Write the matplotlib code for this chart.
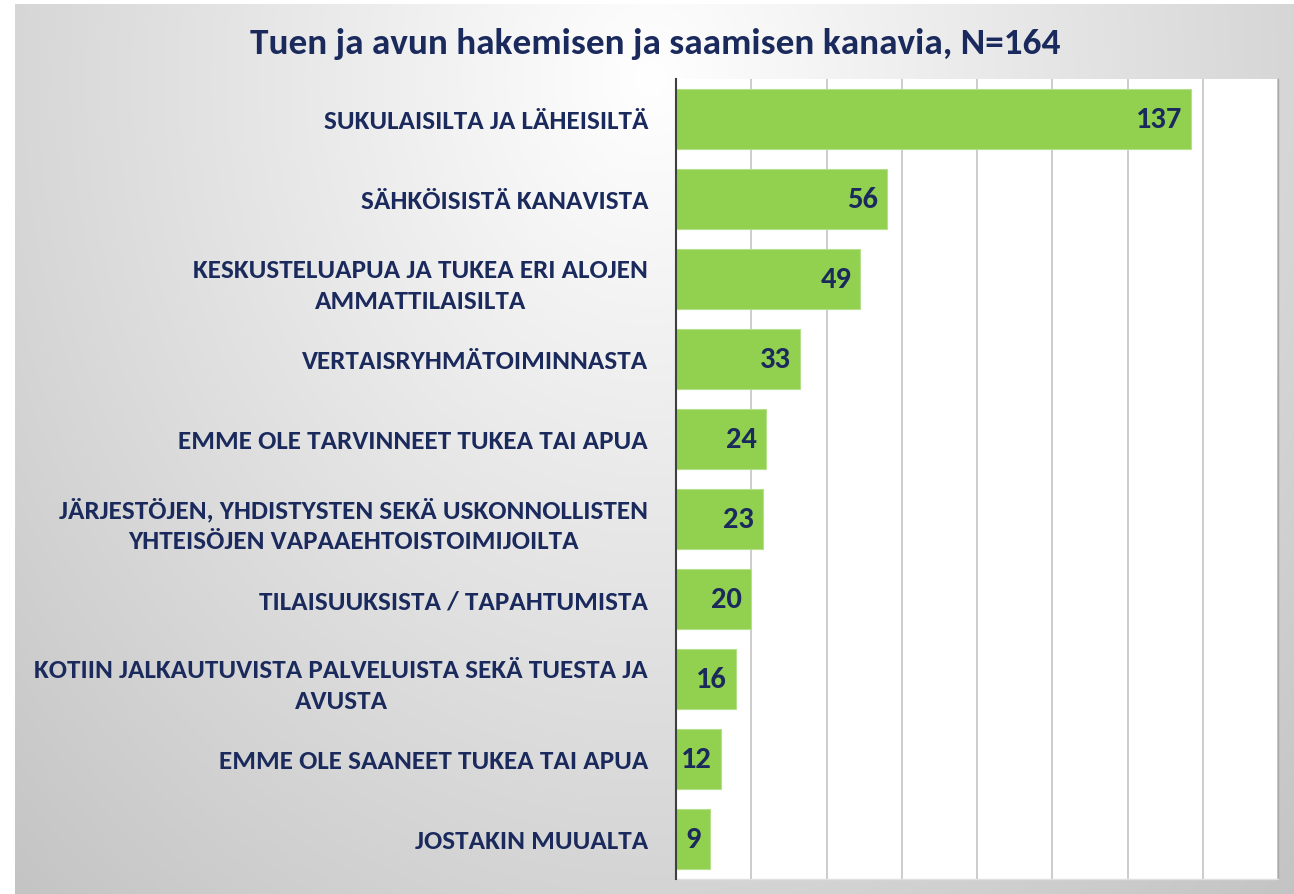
import numpy as np
import matplotlib
matplotlib.use("Agg")
import matplotlib.pyplot as plt
from matplotlib import font_manager

categories = [
    "SUKULAISILTA JA LÄHEISILTÄ",
    "SÄHKÖISISTÄ KANAVISTA",
    "KESKUSTELUAPUA JA TUKEA ERI ALOJEN\nAMMATTILAISILTA",
    "VERTAISRYHMÄTOIMINNASTA",
    "EMME OLE TARVINNEET TUKEA TAI APUA",
    "JÄRJESTÖJEN, YHDISTYSTEN SEKÄ USKONNOLLISTEN\nYHTEISÖJEN VAPAAEHTOISTOIMIJOILTA",
    "TILAISUUKSISTA / TAPAHTUMISTA",
    "KOTIIN JALKAUTUVISTA PALVELUISTA SEKÄ TUESTA JA\nAVUSTA",
    "EMME OLE SAANEET TUKEA TAI APUA",
    "JOSTAKIN MUUALTA",
]
values = [137, 56, 49, 33, 24, 23, 20, 16, 12, 9]
title = "Tuen ja avun hakemisen ja saamisen kanavia, N=164"
xticks = [0, 20, 40, 60, 80, 100, 120, 140, 160]

names = {f.name for f in font_manager.fontManager.ttflist}
fam = "DejaVu Sans"
for cand in ["Carlito", "Liberation Sans Narrow", "Open Sans Condensed", "IBM Plex Sans Condensed"]:
    if cand in names:
        fam = cand
        break
plt.rcParams["font.family"] = [fam, "DejaVu Sans"]

navy = "#1b2a5c"
W, H = 1294, 895
fig = plt.figure(figsize=(W / 100, H / 100), dpi=100)
fig.patch.set_facecolor("white")

# background panel with radial gradient
bg = fig.add_axes([15 / W, 0, 1 - 15 / W, 1 - 5 / H])
yy, xx = np.mgrid[0:890, 0:1279]
xx = xx + 15
yy = yy + 5
d = np.sqrt(((xx - 650) / 680.0) ** 2 + ((yy - 80) / 820.0) ** 2)
val = 1.0 - 0.17 * d
val = np.clip(val, 0.74, 1.0)
img = np.dstack([val, val, val])
bg.imshow(img, aspect="auto", extent=[0, 1, 0, 1], interpolation="bilinear")
bg.set_axis_off()

ax = fig.add_axes([676 / W, 1 - 880 / H, (1278 - 676) / W, 800 / H])
ax.set_facecolor("white")
y = np.arange(len(values))
ax.barh(y, values, height=0.76, color="#92d050", edgecolor="#b5e08a", linewidth=0.8, zorder=3)
ax.set_ylim(len(values) - 0.5, -0.5)
ax.set_xlim(0, 160)
ax.set_xticks(xticks)
ax.xaxis.grid(True, color="#c4c4c4", linewidth=1.2, zorder=0)
ax.tick_params(axis="x", length=0, labelbottom=False)
ax.tick_params(axis="y", length=0)
ax.set_yticks(y)
ax.set_yticklabels(categories, fontsize=19.5, fontweight="bold", color=navy, multialignment="center",
                   linespacing=1.4)
ax.tick_params(axis="y", pad=20)
for s in ["top"]:
    ax.spines[s].set_visible(False)
ax.spines["right"].set_color("#a8a8a8")
ax.spines["right"].set_linewidth(1.0)
ax.spines["bottom"].set_color("#e0e0e0")
ax.spines["bottom"].set_linewidth(1.0)
ax.spines["left"].set_color("#404040")
ax.spines["left"].set_linewidth(1.5)
ax.spines["left"].set_zorder(5)

for yi, v in zip(y, values):
    ax.annotate(str(v), xy=(v, yi), xytext=(-6.5, 0), textcoords="offset points",
                ha="right", va="center", fontsize=22, fontweight="bold", color=navy, zorder=6)

fig.text(655 / W, 1 - 44 / H, title, ha="center", va="center", fontsize=26.8, fontweight="bold", color=navy)

fig.savefig("out.png", dpi=100)
